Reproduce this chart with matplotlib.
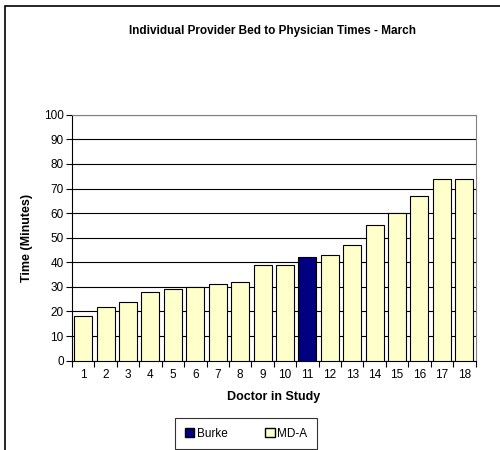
import matplotlib
matplotlib.use("Agg")
import matplotlib.pyplot as plt
from matplotlib.patches import Rectangle, Patch

plt.rcParams['font.family'] = ['Liberation Sans', 'DejaVu Sans']

doctors = list(range(1, 19))
times = [18, 22, 24, 28, 29, 30, 31, 32, 39, 39, 42, 43, 47, 55, 60, 67, 74, 74]
burke_doc = 11

colors = ['#000080' if d == burke_doc else '#FFFFCC' for d in doctors]

fig = plt.figure(figsize=(5, 4.5), dpi=100)
ax = fig.add_axes([0.144, 0.1985, 0.807, 0.5465])

ax.bar(doctors, times, width=0.8, color=colors, edgecolor='black', linewidth=0.8, zorder=3)

ax.set_xlim(0.5, 18.5)
ax.set_ylim(0, 100)
ax.set_yticks(range(0, 101, 10))
ax.set_xticks(doctors)
ax.set_xticks([d + 0.5 for d in range(0, 19)], minor=True)
ax.tick_params(axis='x', which='major', length=0, labelsize=8.5, pad=6)
ax.tick_params(axis='x', which='minor', length=4, width=0.8, direction='out')
ax.tick_params(axis='y', length=4, width=0.8, labelsize=8.5, pad=2)
ax.yaxis.grid(True, color='black', linewidth=0.8, zorder=0)
ax.set_axisbelow(True)

for s in ['top', 'right']:
    ax.spines[s].set_color('#808080')
    ax.spines[s].set_linewidth(0.8)
for s in ['left', 'bottom']:
    ax.spines[s].set_linewidth(0.8)

ax.set_xlabel('Doctor in Study', fontsize=9, fontweight='bold', labelpad=7)
ax.set_ylabel('Time (Minutes)', fontsize=9, fontweight='bold', labelpad=8)
fig.text(0.545, 0.931, 'Individual Provider Bed to Physician Times - March',
         fontsize=8.5, fontweight='bold', ha='center', va='center')

handles = [Patch(facecolor='#000080', edgecolor='black', label='Burke'),
           Patch(facecolor='#FFFFCC', edgecolor='black', label='MD-A')]
leg = fig.legend(handles=handles, loc='center', bbox_to_anchor=(0.492, 0.036), ncol=2,
                 fontsize=8.5, frameon=True, fancybox=False, edgecolor='black',
                 handlelength=0.8, handleheight=0.8, handletextpad=0.2,
                 columnspacing=3.2, borderpad=0.8, borderaxespad=0)
leg.get_frame().set_linewidth(0.8)
leg._legend_box.sep = 0

# chart area border
fig.patches.append(Rectangle((5 / 500, -0.1), 1.2, 1 - 6 / 450 + 0.1, transform=fig.transFigure,
                             fill=False, edgecolor='black', linewidth=1.2))

fig.savefig('out.png', dpi=100)
